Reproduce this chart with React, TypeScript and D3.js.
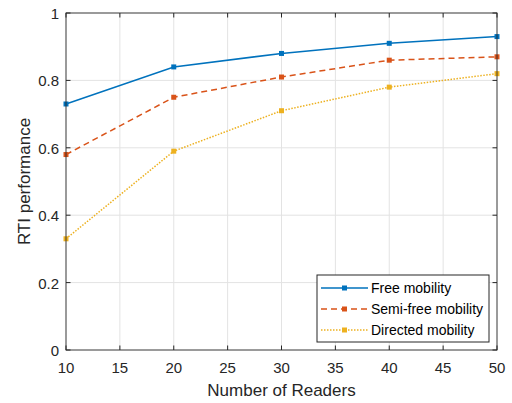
import React from "react";
import * as d3 from "d3";

const readers = [10, 20, 30, 40, 50];
const freeMobility = [0.73, 0.84, 0.88, 0.91, 0.93];
const semiFreeMobility = [0.58, 0.75, 0.81, 0.86, 0.87];
const directedMobility = [0.33, 0.59, 0.71, 0.78, 0.82];
const xTicks = [10, 15, 20, 25, 30, 35, 40, 45, 50];
const yTicks = [0, 0.2, 0.4, 0.6, 0.8, 1];

const seriesList = [
  { name: "Free mobility", values: freeMobility, color: "#0072BD", dash: "none" },
  { name: "Semi-free mobility", values: semiFreeMobility, color: "#D95319", dash: "6,4" },
  { name: "Directed mobility", values: directedMobility, color: "#EDB120", dash: "1.5,1.5" },
];

const W = 512;
const H = 403;
const M = { left: 66, right: 497, top: 13, bottom: 350 };
const FONT = "'Liberation Sans', Arial, Helvetica, sans-serif";
const AXIS = "#262626";

export default function App() {
  const x = d3.scaleLinear().domain([10, 50]).range([M.left, M.right]);
  const y = d3.scaleLinear().domain([0, 1]).range([M.bottom, M.top]);
  const line = d3
    .line<number>()
    .x((_, i) => x(readers[i]))
    .y((v) => y(v));
  const tick = 4.5;

  const lg = { x: 317, y: 275, w: 172, h: 67 };

  return (
    <div style={{ position: "absolute", left: 0, top: 0 }}>
      <svg width={W} height={H} style={{ display: "block", background: "#fff" }}>
        {/* grid */}
        <g stroke="#e3e3e3" strokeWidth={1}>
          {xTicks.map((t) => (
            <line key={"gx" + t} x1={x(t)} x2={x(t)} y1={M.top} y2={M.bottom} />
          ))}
          {yTicks.map((t) => (
            <line key={"gy" + t} x1={M.left} x2={M.right} y1={y(t)} y2={y(t)} />
          ))}
        </g>
        {/* series */}
        {seriesList.map((s) => (
          <g key={s.name}>
            <path
              d={line(s.values) || ""}
              fill="none"
              stroke={s.color}
              strokeWidth={1.5}
              strokeDasharray={s.dash}
            />
            {s.values.map((v, i) => (
              <rect
                key={i}
                x={x(readers[i]) - 2.5}
                y={y(v) - 2.5}
                width={5}
                height={5}
                fill={s.color}
              />
            ))}
          </g>
        ))}
        {/* axes box */}
        <rect
          x={M.left}
          y={M.top}
          width={M.right - M.left}
          height={M.bottom - M.top}
          fill="none"
          stroke={AXIS}
          strokeWidth={1}
          opacity={0.85}
        />
        <g stroke={AXIS} strokeWidth={1}>
          {xTicks.map((t) => (
            <g key={"tx" + t}>
              <line x1={x(t)} x2={x(t)} y1={M.bottom} y2={M.bottom - tick} />
              <line x1={x(t)} x2={x(t)} y1={M.top} y2={M.top + tick} />
            </g>
          ))}
          {yTicks.map((t) => (
            <g key={"ty" + t}>
              <line x1={M.left} x2={M.left + tick} y1={y(t)} y2={y(t)} />
              <line x1={M.right} x2={M.right - tick} y1={y(t)} y2={y(t)} />
            </g>
          ))}
        </g>
        {/* tick labels */}
        <g fontFamily={FONT} fontSize={15} fill={AXIS}>
          {xTicks.map((t) => (
            <text key={"lx" + t} x={x(t)} y={M.bottom + 23} textAnchor="middle">
              {t}
            </text>
          ))}
          {yTicks.map((t) => (
            <text key={"ly" + t} x={M.left - 7} y={y(t) + 6} textAnchor="end">
              {t}
            </text>
          ))}
        </g>
        {/* axis labels */}
        <text
          x={(M.left + M.right) / 2}
          y={396}
          textAnchor="middle"
          fontFamily={FONT}
          fontSize={17}
          fill={AXIS}
        >
          Number of Readers
        </text>
        <text
          transform={`translate(30,${(M.top + M.bottom) / 2}) rotate(-90)`}
          textAnchor="middle"
          fontFamily={FONT}
          fontSize={17}
          fill={AXIS}
        >
          RTI performance
        </text>
        {/* legend */}
        <rect x={lg.x} y={lg.y} width={lg.w} height={lg.h} fill="#fff" stroke={AXIS} strokeWidth={1} />
        {seriesList.map((s, i) => {
          const cy = lg.y + 13 + i * 21;
          return (
            <g key={"lg" + s.name}>
              <line
                x1={lg.x + 4}
                x2={lg.x + 51}
                y1={cy}
                y2={cy}
                stroke={s.color}
                strokeWidth={1.5}
                strokeDasharray={s.dash}
              />
              <rect x={lg.x + 27.5 - 2.5} y={cy - 2.5} width={5} height={5} fill={s.color} />
              <text x={lg.x + 54} y={cy + 5} fontFamily={FONT} fontSize={14} fill="#000">
                {s.name}
              </text>
            </g>
          );
        })}
      </svg>
    </div>
  );
}
